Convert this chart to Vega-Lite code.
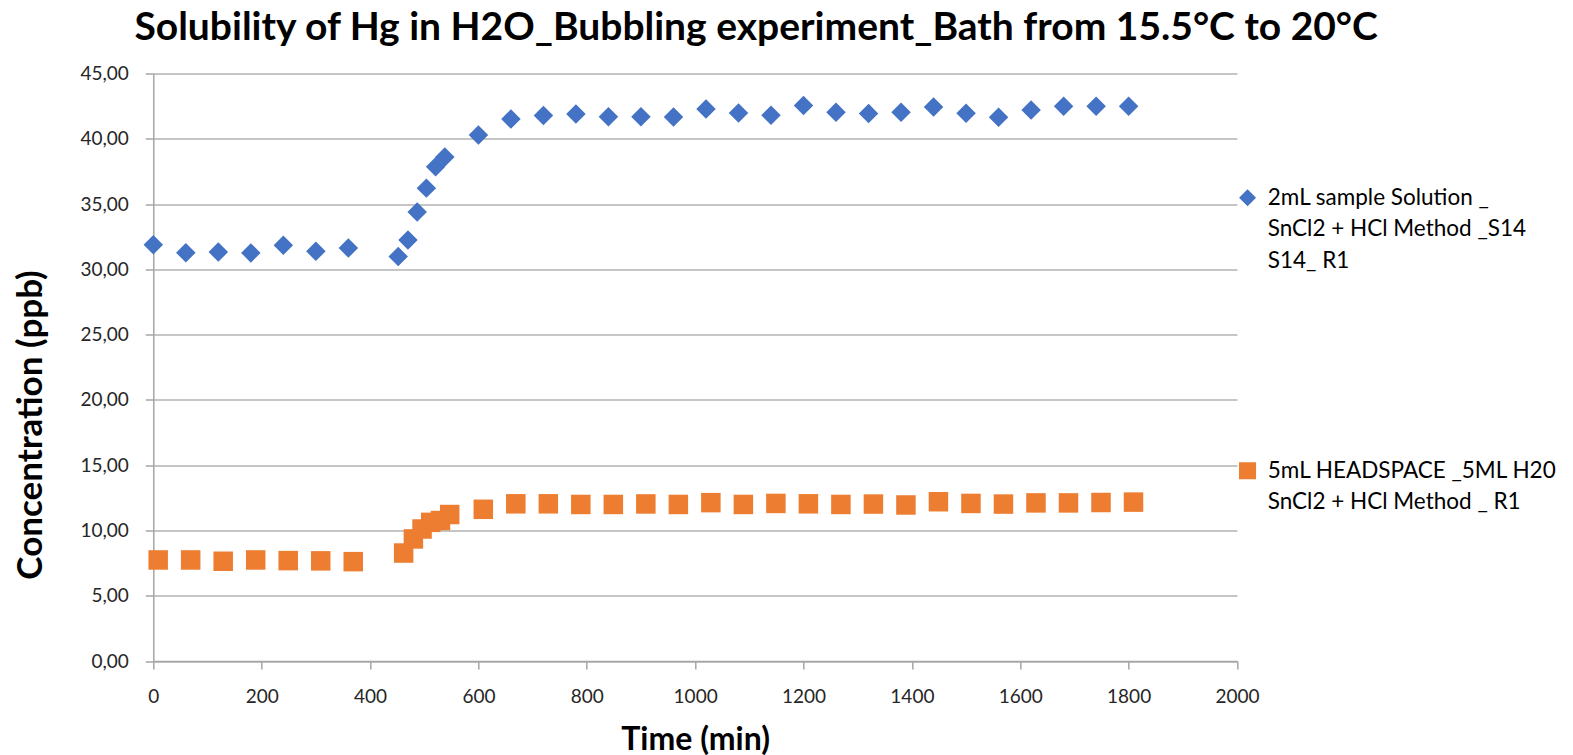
{
  "$schema": "https://vega.github.io/schema/vega-lite/v6.json",
  "width": 1083.7,
  "height": 587.5,
  "autosize": {"type": "none"},
  "padding": {"left": 153.3, "top": 73.5, "right": 336, "bottom": 94},
  "background": "white",
  "config": {"view": {"stroke": null}, "style": {"guide-label": {"lineHeight": 31.5}}},
  "title": {
    "text": "Solubility of Hg in H2O_Bubbling experiment_Bath from 15.5°C to 20°C",
    "font": "Lato", "fontSize": 39, "fontWeight": "bold", "color": "#000000",
    "frame": "group", "anchor": "middle", "dx": 61, "offset": 34, "dy": 48, "baseline": "alphabetic"
  },
  "data": {
    "values": [
      {"series": "A", "time": 0, "conc": 31.89},
      {"series": "A", "time": 60, "conc": 31.27},
      {"series": "A", "time": 120, "conc": 31.32},
      {"series": "A", "time": 180, "conc": 31.26},
      {"series": "A", "time": 240, "conc": 31.84},
      {"series": "A", "time": 300, "conc": 31.38},
      {"series": "A", "time": 360, "conc": 31.63},
      {"series": "A", "time": 452, "conc": 30.98},
      {"series": "A", "time": 470, "conc": 32.25},
      {"series": "A", "time": 487, "conc": 34.4},
      {"series": "A", "time": 504, "conc": 36.22},
      {"series": "A", "time": 521, "conc": 37.85},
      {"series": "A", "time": 538, "conc": 38.6},
      {"series": "A", "time": 600, "conc": 40.29},
      {"series": "A", "time": 660, "conc": 41.51},
      {"series": "A", "time": 720, "conc": 41.79},
      {"series": "A", "time": 780, "conc": 41.89},
      {"series": "A", "time": 840, "conc": 41.69},
      {"series": "A", "time": 900, "conc": 41.69},
      {"series": "A", "time": 960, "conc": 41.66},
      {"series": "A", "time": 1020, "conc": 42.28},
      {"series": "A", "time": 1080, "conc": 41.98},
      {"series": "A", "time": 1140, "conc": 41.8},
      {"series": "A", "time": 1200, "conc": 42.54},
      {"series": "A", "time": 1260, "conc": 42.03},
      {"series": "A", "time": 1320, "conc": 41.93},
      {"series": "A", "time": 1380, "conc": 42.03},
      {"series": "A", "time": 1440, "conc": 42.44},
      {"series": "A", "time": 1500, "conc": 41.95},
      {"series": "A", "time": 1560, "conc": 41.65},
      {"series": "A", "time": 1620, "conc": 42.21},
      {"series": "A", "time": 1680, "conc": 42.49},
      {"series": "A", "time": 1740, "conc": 42.49},
      {"series": "A", "time": 1800, "conc": 42.49},
      {"series": "B", "time": 9, "conc": 7.74},
      {"series": "B", "time": 69, "conc": 7.74},
      {"series": "B", "time": 129, "conc": 7.64},
      {"series": "B", "time": 189, "conc": 7.74},
      {"series": "B", "time": 249, "conc": 7.69},
      {"series": "B", "time": 309, "conc": 7.67},
      {"series": "B", "time": 369, "conc": 7.61},
      {"series": "B", "time": 462, "conc": 8.27},
      {"series": "B", "time": 480, "conc": 9.35},
      {"series": "B", "time": 496, "conc": 10.11},
      {"series": "B", "time": 512, "conc": 10.62},
      {"series": "B", "time": 530, "conc": 10.76},
      {"series": "B", "time": 547, "conc": 11.22},
      {"series": "B", "time": 609, "conc": 11.62},
      {"series": "B", "time": 669, "conc": 12.04},
      {"series": "B", "time": 729, "conc": 12.04},
      {"series": "B", "time": 789, "conc": 11.99},
      {"series": "B", "time": 849, "conc": 11.99},
      {"series": "B", "time": 909, "conc": 12.03},
      {"series": "B", "time": 969, "conc": 11.99},
      {"series": "B", "time": 1029, "conc": 12.13},
      {"series": "B", "time": 1089, "conc": 11.99},
      {"series": "B", "time": 1149, "conc": 12.07},
      {"series": "B", "time": 1209, "conc": 12.04},
      {"series": "B", "time": 1269, "conc": 11.99},
      {"series": "B", "time": 1329, "conc": 12.02},
      {"series": "B", "time": 1389, "conc": 11.95},
      {"series": "B", "time": 1449, "conc": 12.2},
      {"series": "B", "time": 1509, "conc": 12.07},
      {"series": "B", "time": 1569, "conc": 12.02},
      {"series": "B", "time": 1629, "conc": 12.11},
      {"series": "B", "time": 1689, "conc": 12.11},
      {"series": "B", "time": 1749, "conc": 12.14},
      {"series": "B", "time": 1809, "conc": 12.17}
    ]
  },
  "mark": {"type": "point", "filled": true, "opacity": 1, "size": 380, "strokeWidth": 0},
  "encoding": {
    "x": {
      "field": "time", "type": "quantitative",
      "scale": {"domain": [0, 2000], "nice": false, "zero": false},
      "axis": {
        "title": "Time (min)",
        "values": [0, 200, 400, 600, 800, 1000, 1200, 1400, 1600, 1800, 2000],
        "format": "d",
        "grid": false,
        "domainColor": "#a6a6a6", "domainWidth": 1.5,
        "tickColor": "#a6a6a6", "tickSize": 8, "tickWidth": 1.5,
        "labelFont": "Lato", "labelFontSize": 19, "labelColor": "#262626", "labelPadding": 18,
        "labelFlush": false,
        "titleFont": "Lato", "titleFontSize": 32, "titleFontWeight": "bold", "titleColor": "#000000",
        "titleY": 78, "titleBaseline": "middle"
      }
    },
    "y": {
      "field": "conc", "type": "quantitative",
      "scale": {"domain": [0, 45], "nice": false, "zero": true},
      "axis": {
        "title": "Concentration (ppb)",
        "values": [0, 5, 10, 15, 20, 25, 30, 35, 40, 45],
        "labelExpr": "replace(format(datum.value, '.2f'), '.', ',')",
        "grid": true, "gridColor": "#b3b3b3", "gridWidth": 1.5,
        "domainColor": "#a6a6a6", "domainWidth": 1.5,
        "tickColor": "#a6a6a6", "tickSize": 8, "tickWidth": 1.5,
        "labelFont": "Lato", "labelFontSize": 19, "labelColor": "#262626", "labelPadding": 17,
        "labelFlush": false,
        "titleFont": "Lato", "titleFontSize": 35, "titleFontWeight": "bold", "titleColor": "#000000",
        "titleX": -123, "titleY": 351, "titleBaseline": "middle", "titleAlign": "center", "titleAngle": -90
      }
    },
    "color": {
      "field": "series", "type": "nominal",
      "scale": {"domain": ["A", "B"], "range": ["#4472C4", "#ED7D31"]},
      "legend": {
        "orient": "none", "legendX": 1083, "legendY": 113, "title": null,
        "labelExpr": "datum.label == 'A' ? ['2mL sample Solution _', 'SnCl2 + HCl Method _S14', 'S14_ R1'] : ['5mL HEADSPACE _5ML H20', 'SnCl2 + HCl Method _ R1']",
        "labelFont": "Lato", "labelFontSize": 22.5, "labelColor": "#000000",
        "labelLimit": 400, "labelOffset": 9, "symbolSize": 290, "symbolStrokeWidth": 0,
        "rowPadding": 187, "padding": 0
      }
    },
    "shape": {
      "field": "series", "type": "nominal",
      "scale": {"domain": ["A", "B"], "range": ["diamond", "square"]},
      "legend": {
        "orient": "none", "legendX": 1083, "legendY": 113, "title": null,
        "labelExpr": "datum.label == 'A' ? ['2mL sample Solution _', 'SnCl2 + HCl Method _S14', 'S14_ R1'] : ['5mL HEADSPACE _5ML H20', 'SnCl2 + HCl Method _ R1']",
        "labelFont": "Lato", "labelFontSize": 22.5, "labelColor": "#000000",
        "labelLimit": 400, "labelOffset": 9, "symbolSize": 290, "symbolStrokeWidth": 0,
        "rowPadding": 187, "padding": 0
      }
    }
  }
}
